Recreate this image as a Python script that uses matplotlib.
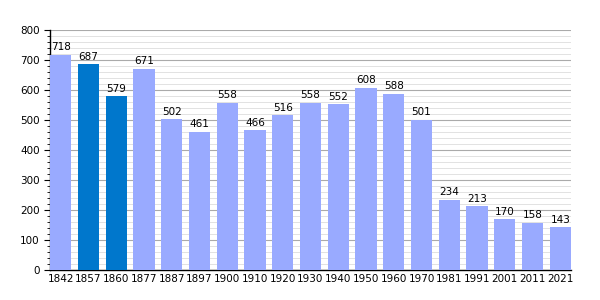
import matplotlib
matplotlib.use("Agg")
import matplotlib.pyplot as plt
from matplotlib.ticker import MultipleLocator

years = ["1842", "1857", "1860", "1877", "1887", "1897", "1900", "1910", "1920", "1930",
         "1940", "1950", "1960", "1970", "1981", "1991", "2001", "2011", "2021"]
values = [718, 687, 579, 671, 502, 461, 558, 466, 516, 558,
          552, 608, 588, 501, 234, 213, 170, 158, 143]
highlight = ["1857", "1860"]

light = "#99aaff"
dark = "#0077cc"

fig = plt.figure(figsize=(6, 3), dpi=100)
ax = fig.add_axes([50/600, 30/300, 521/600, 240/300])

x = list(range(len(years)))
colors = [dark if y in highlight else light for y in years]
w = 0.77
ax.bar(x, values, width=w, color=colors, zorder=3)
for xi, v in zip(x, values):
    ax.text(xi, v + 8, str(v), ha="center", va="bottom", fontsize=7.5, zorder=4)

ax.set_xlim(-w/2, len(years) - 1 + w/2)
ax.set_ylim(0, 800)
ax.set_xticks(x)
ax.set_xticklabels(years, fontsize=7.5)
ax.yaxis.set_major_locator(MultipleLocator(100))
ax.yaxis.set_minor_locator(MultipleLocator(20))
ax.tick_params(axis="y", labelsize=7.5, length=4, width=0.8)
ax.tick_params(axis="y", which="minor", length=2, width=0.6)
ax.tick_params(axis="x", length=0, pad=3)
ax.grid(axis="y", which="major", color="#aaaaaa", linewidth=0.8, zorder=0)
ax.grid(axis="y", which="minor", color="#dddddd", linewidth=0.6, zorder=0)
for s in ["top", "right"]:
    ax.spines[s].set_visible(False)
ax.spines["left"].set_linewidth(1)
ax.spines["bottom"].set_linewidth(1)

fig.savefig("out.png", dpi=100)
